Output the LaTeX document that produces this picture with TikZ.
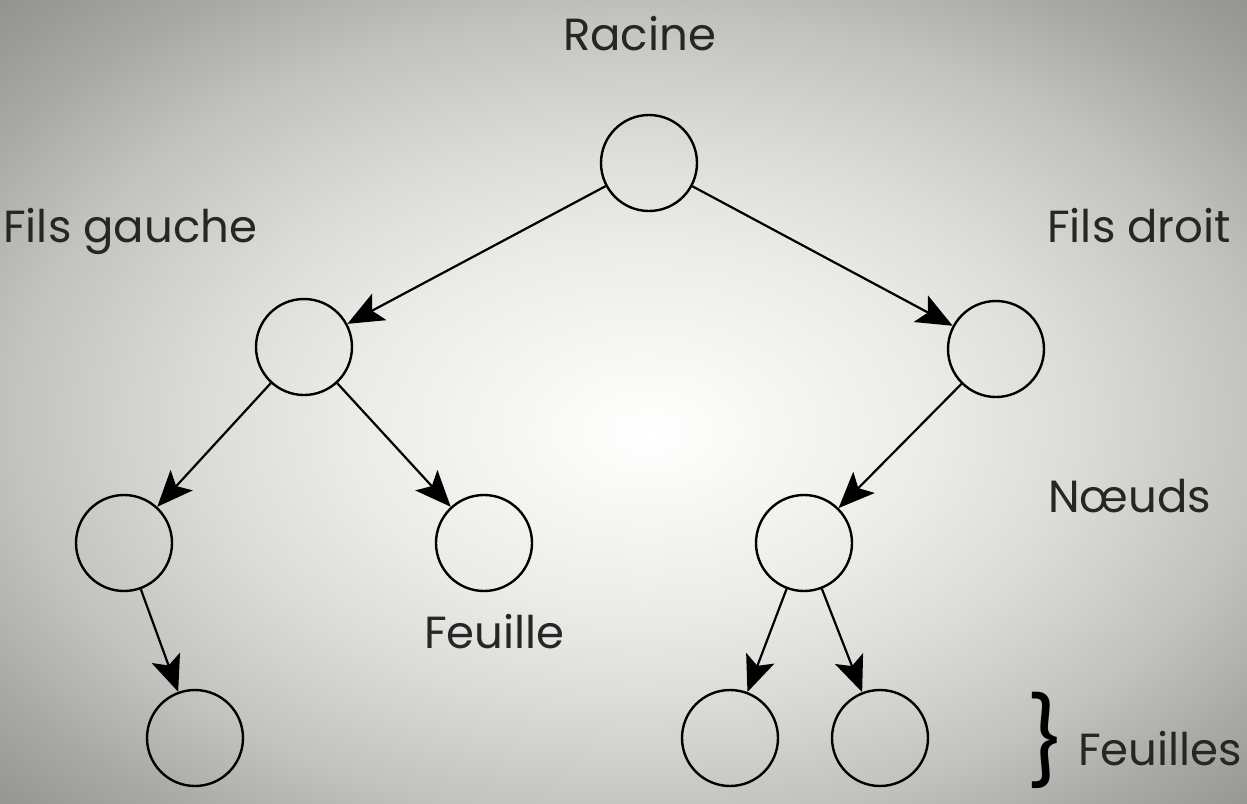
\documentclass[tikz,border=0pt]{standalone}
\usepackage{fontspec}
\setmainfont{Poppins}
\usetikzlibrary{arrows.meta}
\definecolor{c0}{HTML}{FFFFFF}
\definecolor{c1}{HTML}{F5F5F1}
\definecolor{c2}{HTML}{EAEAE6}
\definecolor{c3}{HTML}{DADAD6}
\definecolor{c4}{HTML}{C2C2BE}
\definecolor{c5}{HTML}{A6A6A2}
\definecolor{c6}{HTML}{8E8E8C}
\pgfdeclareradialshading{vign}{\pgfpoint{1bp}{-2bp}}{%
  color(0bp)=(c0); color(6bp)=(c1); color(12bp)=(c2); color(18bp)=(c3);
  color(25bp)=(c4); color(31bp)=(c5); color(37bp)=(c6); color(50bp)=(c6)}
\begin{document}
\begin{tikzpicture}[x=1pt,y=-1pt,
  vert/.style={circle,draw=black,line width=2.4pt,minimum size=96pt,inner sep=0pt},
  edge/.style={draw=black,line width=2.2pt,-{Stealth[length=36pt,width=30pt,inset=8pt]}},
  lbl/.style={font=\fontsize{45}{48}\selectfont,inner sep=0pt,text=black!85}]
\shade[shading=vign] (0,0) rectangle (1247,803);
\useasboundingbox (0,0) rectangle (1247,803);
\node[vert] (r) at (649,163) {};
\node[vert] (a) at (304,347) {};
\node[vert] (b) at (996,349) {};
\node[vert] (aa) at (124,543) {};
\node[vert] (ab) at (484,543) {};
\node[vert] (ba) at (804,543) {};
\node[vert] (aaa) at (195,738) {};
\node[vert] (baa) at (730,738) {};
\node[vert] (bab) at (880,738) {};
\draw[edge] (r) -- (a);
\draw[edge] (r) -- (b);
\draw[edge] (a) -- (aa);
\draw[edge] (a) -- (ab);
\draw[edge] (b) -- (ba);
\draw[edge] (aa) -- (aaa);
\draw[edge] (ba) -- (baa);
\draw[edge] (ba) -- (bab);
\node[lbl,anchor=base west] (t1) at (563,50) {Racine};
\node[lbl,anchor=base west] (t2) at (3,242) {Fils gauche};
\node[lbl,anchor=base west] (t3) at (1047,242) {Fils droit};
\node[lbl,anchor=base west] (t4) at (1048,512) {Nœuds};
\node[lbl,anchor=base west] (t5) at (424,648) {Feuille};
\node[lbl,anchor=base west] (t6) at (1078,765) {Feuilles};
\node[inner sep=0pt,anchor=center,text=black,font=\fontsize{86}{86}\selectfont] (br) at (1046,740) {\}};
\end{tikzpicture}
\end{document}
